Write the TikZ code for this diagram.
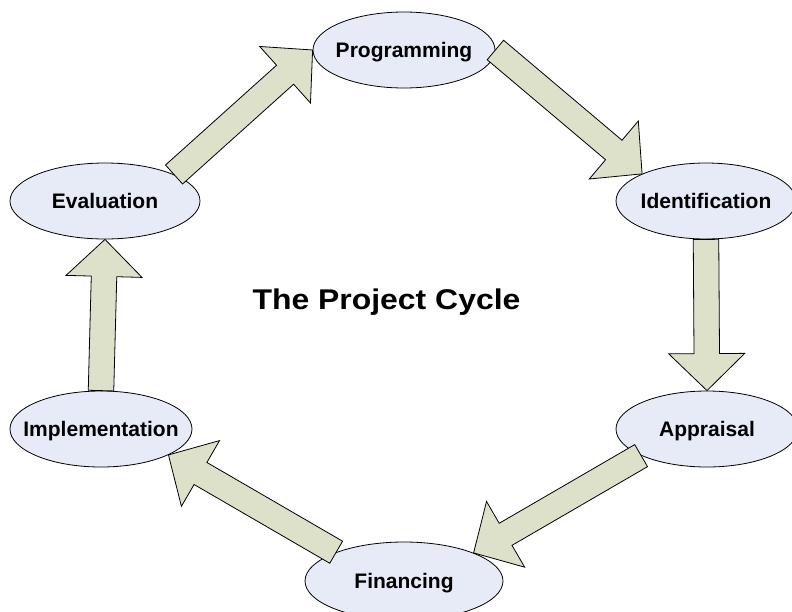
\documentclass[tikz,border=0pt]{standalone}
\usepackage{fontspec}
\setmainfont{Liberation Sans}
\usetikzlibrary{shapes.geometric,calc}

\definecolor{stagefill}{RGB}{230,235,247}
\definecolor{flowfill}{RGB}{221,225,202}

% caps-centred label text of zero size, so the ellipse keeps its given size
\newcommand\capcentred[1]{\raisebox{-0.358em}[0pt][0pt]{\makebox[0pt]{#1}}}

% broad block arrow from #1 (base of the shaft) to #2 (tip)
\newcommand\blockarrow[2]{%
  \coordinate (ba-head) at ($(#2)!37pt!(#1)$);
  \draw[flowarrow]
    ($(#1)!12.75pt!90:(#2)$) -- ($(ba-head)!12.75pt!90:(#2)$)
    -- ($(ba-head)!38pt!90:(#2)$) -- (#2)
    -- ($(ba-head)!38pt!-90:(#2)$) -- ($(ba-head)!12.75pt!-90:(#2)$)
    -- ($(#1)!12.75pt!-90:(#2)$) -- cycle;}

\begin{document}
\begin{tikzpicture}[x=1pt,y=-1pt,
  stage/.style={ellipse,draw=black,line width=0.8pt,fill=stagefill,
    inner sep=0pt,font=\bfseries\fontsize{21}{21}\selectfont},
  flowarrow/.style={draw=black,line width=0.8pt,fill=flowfill,line join=miter},
  title/.style={inner sep=0pt,font=\bfseries\fontsize{28.5}{30}\selectfont}]

  \useasboundingbox[fill=white] (0,0) rectangle (792,611);

  % the six stages of the cycle
  \node[stage,minimum width=182pt,minimum height=76pt] (prog)  at (404,50)  {\capcentred{Programming}};
  \node[stage,minimum width=180pt,minimum height=76pt] (ident) at (706,201) {\capcentred{Identification}};
  \node[stage,minimum width=182pt,minimum height=76pt] (appr)  at (707,429) {\capcentred{Appraisal}};
  \node[stage,minimum width=198pt,minimum height=78pt] (fin)   at (404,581) {\capcentred{Financing}};
  \node[stage,minimum width=182pt,minimum height=76pt] (impl)  at (101,429) {\capcentred{Implementation}};
  \node[stage,minimum width=190pt,minimum height=76pt] (eval)  at (105,201) {\capcentred{Evaluation}};

  % centre title
  \node[title] (cycle) at (386.5,299.5) {\capcentred{\scalebox{1.12}[1]{The Project Cycle}}};

  % flow between the stages
  \blockarrow{eval.21}{prog.180}
  \blockarrow{prog.0}{ident.157.3}
  \blockarrow{ident.south}{appr.north}
  \blockarrow{appr.202.5}{fin.22.7}
  \blockarrow{fin.157.7}{impl.339.7}
  \blockarrow{impl.north}{eval.south}
\end{tikzpicture}
\end{document}
